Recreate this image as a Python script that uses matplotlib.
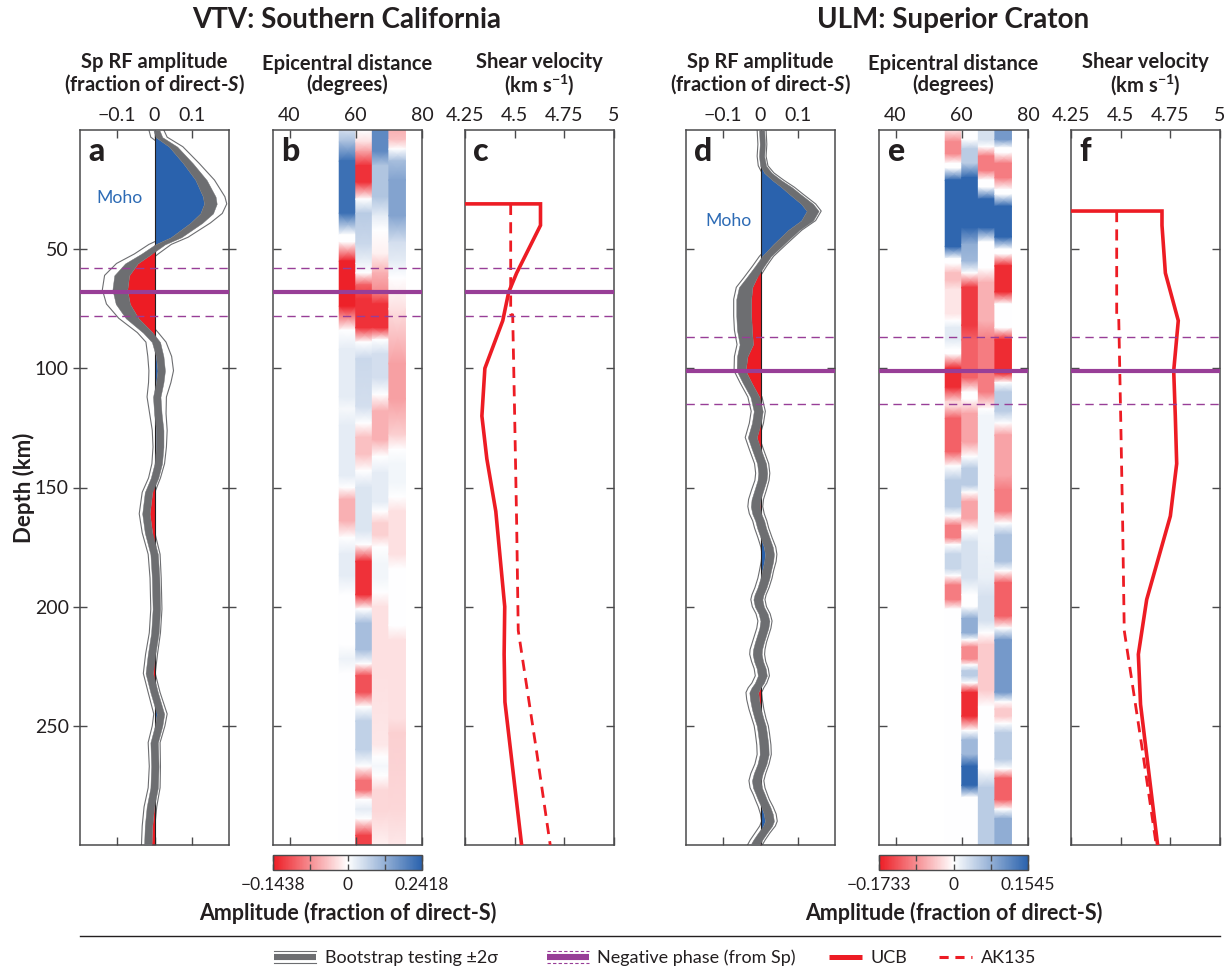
import numpy as np
import matplotlib
matplotlib.use('Agg')
import matplotlib.pyplot as plt
from matplotlib.colors import LinearSegmentedColormap, TwoSlopeNorm
from matplotlib.cm import ScalarMappable
from matplotlib.lines import Line2D
from matplotlib.legend_handler import HandlerBase

plt.rcParams['font.family'] = ['Lato', 'DejaVu Sans']
plt.rcParams['mathtext.fontset'] = 'custom'
plt.rcParams['mathtext.rm'] = 'Lato:bold'
plt.rcParams['mathtext.it'] = 'Lato:bold:italic'
plt.rcParams['mathtext.bf'] = 'Lato:bold'

# ---------------- data ----------------
# Sp receiver function, VTV (panel a): depth (km), mean amplitude, half width of
# the bootstrap bundle, and offset of the +-2 sigma lines
depth_a = [0, 3, 7, 14, 21, 28, 31, 35, 39, 45,
           48, 52, 56, 61, 67, 73, 79, 85, 89, 95,
           101, 106, 112, 119, 126, 133, 140, 146, 152, 161,
           169, 178, 188, 201, 211, 220, 228, 236, 245, 250,
           257, 267, 276, 284, 292, 300]
amp_a = [0.005, 0.012, 0.05, 0.09, 0.125, 0.147, 0.150, 0.140, 0.112, 0.058,
         0.015, -0.022, -0.062, -0.088, -0.093, -0.085, -0.060, -0.018, 0.004, 0.014,
         0.018, 0.014, 0.006, 0.009, 0.014, 0.014, 0.010, 0.000, -0.016, -0.023,
         -0.016, -0.001, 0.003, 0.005, 0.001, -0.008, -0.014, -0.001, 0.016, 0.011,
         -0.001, 0.001, -0.001, -0.011, -0.016, -0.018]
band_a = [0.008, 0.009, 0.011, 0.013, 0.015, 0.017, 0.017, 0.017, 0.016, 0.014,
          0.013, 0.014, 0.017, 0.020, 0.020, 0.019, 0.017, 0.013, 0.011, 0.010,
          0.010, 0.010, 0.010, 0.010, 0.010, 0.010, 0.010, 0.010, 0.010, 0.010,
          0.010, 0.010, 0.010, 0.010, 0.010, 0.010, 0.010, 0.010, 0.010, 0.010,
          0.010, 0.010, 0.010, 0.010, 0.010, 0.010]
sig_a = [0.020, 0.022, 0.026, 0.030, 0.036, 0.042, 0.044, 0.042, 0.038, 0.032,
         0.030, 0.032, 0.040, 0.046, 0.047, 0.044, 0.036, 0.028, 0.027, 0.032,
         0.033, 0.030, 0.026, 0.022, 0.020, 0.018, 0.017, 0.016, 0.017, 0.018,
         0.017, 0.016, 0.015, 0.015, 0.015, 0.016, 0.016, 0.016, 0.018, 0.017,
         0.016, 0.015, 0.016, 0.017, 0.017, 0.017]

# Sp receiver function, ULM (panel d)
depth_d = [0, 6, 11, 15, 18, 21, 24, 27, 31, 34,
           38, 42, 48, 53, 57, 62, 66, 71, 78, 84,
           90, 95, 101, 106, 112, 118, 123, 129, 134, 140,
           144, 147, 151, 155, 158, 161, 164, 167, 171, 175,
           178, 181, 185, 188, 192, 195, 197, 200, 203, 206,
           209, 211, 215, 218, 220, 223, 226, 229, 232, 234,
           236, 239, 243, 247, 250, 253, 258, 262, 266, 270,
           273, 276, 279, 281, 284, 287, 290, 292, 295, 298,
           300]
amp_d = [0.003, 0.005, 0.003, 0.007, 0.020, 0.043, 0.070, 0.093, 0.125, 0.140,
         0.125, 0.089, 0.048, 0.016, -0.002, -0.024, -0.040, -0.045, -0.045, -0.043,
         -0.038, -0.049, -0.052, -0.036, -0.015, -0.006, -0.011, -0.022, -0.011, 0.003,
         0.006, 0.004, -0.004, -0.012, -0.014, -0.010, -0.002, 0.003, 0.012, 0.021,
         0.024, 0.022, 0.016, 0.012, 0.004, -0.004, -0.007, -0.003, 0.007, 0.012,
         0.009, 0.005, -0.003, -0.008, -0.009, -0.005, 0.002, 0.005, -0.003, -0.012,
         -0.018, -0.016, -0.011, -0.004, 0.002, 0.005, 0.009, 0.010, 0.004, -0.006,
         -0.011, -0.008, 0.000, 0.005, 0.014, 0.021, 0.024, 0.019, 0.005, -0.008,
         -0.015]
band_d = [0.007, 0.007, 0.007, 0.008, 0.010, 0.012, 0.014, 0.015, 0.016, 0.016,
          0.016, 0.015, 0.014, 0.012, 0.012, 0.014, 0.018, 0.020, 0.020, 0.020,
          0.018, 0.014, 0.012, 0.012, 0.012, 0.012, 0.012, 0.012, 0.012, 0.012,
          0.012, 0.012, 0.012, 0.012, 0.012, 0.012, 0.012, 0.012, 0.012, 0.012,
          0.012, 0.012, 0.012, 0.012, 0.012, 0.012, 0.012, 0.012, 0.012, 0.012,
          0.012, 0.012, 0.012, 0.012, 0.012, 0.012, 0.012, 0.012, 0.012, 0.012,
          0.012, 0.012, 0.012, 0.012, 0.012, 0.012, 0.012, 0.012, 0.012, 0.012,
          0.012, 0.012, 0.012, 0.012, 0.012, 0.012, 0.012, 0.012, 0.012, 0.012,
          0.012]
sig_d = [0.012, 0.012, 0.012, 0.013, 0.016, 0.019, 0.021, 0.022, 0.023, 0.023,
         0.023, 0.022, 0.021, 0.019, 0.019, 0.021, 0.025, 0.027, 0.027, 0.027,
         0.025, 0.021, 0.019, 0.019, 0.019, 0.019, 0.019, 0.019, 0.019, 0.019,
         0.019, 0.019, 0.020, 0.020, 0.020, 0.020, 0.019, 0.019, 0.019, 0.020,
         0.020, 0.020, 0.019, 0.019, 0.019, 0.019, 0.019, 0.019, 0.019, 0.019,
         0.019, 0.019, 0.019, 0.020, 0.020, 0.019, 0.019, 0.019, 0.020, 0.021,
         0.021, 0.021, 0.020, 0.019, 0.019, 0.019, 0.019, 0.019, 0.019, 0.020,
         0.020, 0.020, 0.019, 0.019, 0.020, 0.021, 0.021, 0.021, 0.020, 0.020,
         0.020]

# epicentral-distance bins (degrees) of the binned Sp stacks
dist_bins = [55, 60, 65, 70, 75]

# binned stacks, (depth km, amplitude) knots per bin -- VTV (panel b)
vtv_bin1 = [(0, 0.05), (5, 0.1), (13, 0.22), (35, 0.22), (44, 0.0), (47, 0.0), (55, -0.14),
            (74, -0.14), (84, 0.0), (92, 0.03), (112, 0.03), (117, 0.01), (124, 0.03),
            (145, 0.03), (150, 0.0), (155, -0.05), (164, -0.05), (171, 0.0), (178, 0.03),
            (187, 0.03), (195, 0.0), (216, 0.0), (222, 0.02), (228, 0.0), (300, 0.0)]
vtv_bin2 = [(0, 0.0), (5, -0.02), (9, -0.06), (15, -0.13), (22, -0.13), (29, 0.0), (35, 0.08),
            (48, 0.06), (56, 0.02), (60, 0.0), (65, -0.1), (71, -0.13), (83, -0.13), (89, 0.0),
            (96, 0.06), (116, 0.05), (123, 0.0), (129, -0.04), (136, -0.04), (143, 0.0),
            (150, 0.04), (168, 0.04), (174, 0.0), (181, -0.13), (195, -0.13), (201, 0.0),
            (207, 0.1), (218, 0.1), (224, 0.0), (229, -0.11), (236, -0.11), (242, 0.0),
            (248, 0.07), (260, 0.07), (267, 0.0), (273, -0.09), (277, -0.09), (281, 0.0),
            (285, 0.03), (289, 0.0), (296, -0.12), (300, -0.12)]
vtv_bin3 = [(0, 0.18), (9, 0.18), (15, 0.09), (28, 0.09), (36, 0.03), (42, 0.0), (52, -0.01),
            (60, -0.05), (67, -0.07), (73, -0.13), (83, -0.13), (88, 0.0), (94, 0.05),
            (104, 0.05), (111, 0.0), (118, -0.05), (130, -0.05), (137, 0.0), (144, 0.03),
            (156, 0.03), (160, 0.0), (165, -0.03), (170, -0.03), (175, 0.0), (182, 0.015),
            (188, 0.015), (194, 0.0), (200, -0.02), (228, -0.02), (258, -0.015), (263, 0.0),
            (267, 0.012), (271, 0.0), (277, -0.025), (286, -0.025), (300, -0.01)]
vtv_bin4 = [(0, -0.05), (4, -0.04), (8, 0.0), (13, 0.1), (21, 0.14), (36, 0.14), (47, 0.05),
            (55, 0.03), (62, 0.0), (75, -0.02), (98, -0.06), (113, -0.06), (128, -0.03),
            (134, 0.0), (140, 0.015), (148, 0.015), (154, 0.0), (160, -0.02), (178, -0.02),
            (184, 0.0), (208, 0.0), (214, -0.02), (247, -0.02), (253, -0.03), (285, -0.025),
            (300, -0.015)]

# binned stacks -- ULM (panel e)
ulm_bin1 = [(0, -0.02), (5, -0.09), (10, -0.09), (14, 0.0), (16, 0.0), (21, 0.15), (49, 0.15),
            (54, 0.0), (56, 0.0), (60, -0.05), (63, -0.05), (67, -0.02), (77, -0.02), (80, 0.0),
            (83, 0.02), (88, 0.02), (92, 0.0), (94, 0.0), (100, -0.16), (108, -0.16),
            (114, -0.03), (116, -0.03), (121, -0.12), (135, -0.12), (141, 0.0), (147, 0.05),
            (158, 0.05), (162, 0.0), (166, -0.1), (171, -0.1), (174, 0.0), (178, 0.04),
            (184, 0.04), (187, 0.0), (191, -0.1), (197, -0.1), (201, 0.0), (300, 0.0)]
ulm_bin2 = [(0, 0.0), (4, 0.0), (8, 0.05), (14, 0.05), (20, 0.15), (41, 0.15), (48, 0.08),
            (55, 0.07), (60, 0.0), (66, -0.15), (82, -0.15), (88, -0.12), (104, -0.12),
            (110, 0.0), (113, 0.0), (119, -0.07), (131, -0.07), (137, 0.0), (142, 0.05),
            (149, 0.05), (152, 0.0), (156, -0.07), (163, -0.07), (168, 0.0), (173, 0.03),
            (188, 0.03), (195, 0.0), (200, 0.0), (205, 0.08), (211, 0.08), (214, 0.0),
            (217, -0.09), (222, -0.09), (224.5, 0.0), (227, 0.05), (229, 0.05), (232, 0.0),
            (236, -0.16), (246, -0.16), (252, 0.0), (256, 0.07), (262, 0.07), (267, 0.15),
            (275, 0.15), (280, 0.0), (300, 0.0)]
ulm_bin3 = [(0, 0.03), (4, 0.03), (7, 0.0), (11, -0.1), (17, -0.1), (21, 0.0), (24, 0.0),
            (29, 0.15), (41, 0.15), (47, 0.0), (58, 0.0), (64, -0.06), (80, -0.06), (88, -0.1),
            (110, -0.1), (117, 0.0), (120, 0.01), (172, 0.01), (188, 0.015), (196, 0.03),
            (206, 0.03), (211, 0.0), (216, -0.04), (235, -0.04), (242, 0.0), (268, 0.0),
            (276, 0.05), (300, 0.05)]
ulm_bin4 = [(0, 0.1), (4, 0.1), (7.5, 0.0), (9.5, 0.0), (14, -0.1), (20, -0.1), (25, 0.0),
            (27, 0.0), (32, 0.15), (45, 0.15), (50, 0.0), (52, 0.0), (57, -0.16), (68, -0.16),
            (73, 0.0), (83, 0.0), (88, -0.16), (102, -0.16), (106, 0.0), (110, 0.05),
            (118, 0.05), (123, 0.0), (128, -0.07), (145, -0.07), (151, -0.1), (160, -0.1),
            (165, 0.0), (170, 0.06), (181, 0.06), (185, 0.0), (190, -0.12), (204, -0.12),
            (209, 0.0), (214, 0.1), (236, 0.1), (240, 0.0), (243, -0.04), (246, -0.04),
            (249, 0.0), (253, 0.05), (264, 0.05), (268, 0.0), (272, -0.12), (281, -0.12),
            (285, 0.0), (289, 0.08), (300, 0.08)]

cbar_vtv = (-0.1438, 0.2418)
cbar_ulm = (-0.1733, 0.1545)

# shear velocity models (km/s)
ucb_vtv_depth = [0, 31, 31, 40, 60, 68, 80, 100, 120, 138, 160, 200, 220, 240, 300]
ucb_vtv_vs = [3.8, 3.8, 4.63, 4.63, 4.51, 4.47, 4.44, 4.35, 4.335, 4.36, 4.405, 4.45, 4.447, 4.451, 4.535]
ucb_ulm_depth = [0, 34, 34, 40, 60, 80, 101, 120, 140, 162, 197, 220, 241, 300]
ucb_ulm_vs = [3.8, 3.8, 4.708, 4.708, 4.725, 4.79, 4.767, 4.775, 4.782, 4.75, 4.631, 4.589, 4.6, 4.686]
ak135_vtv_depth = [31, 77.5, 77.5, 120, 165, 210, 260, 300]
ak135_ulm_depth = [34, 77.5, 77.5, 120, 165, 210, 260, 300]
ak135_vs = [4.48, 4.48, 4.49, 4.50, 4.51, 4.518, 4.609, 4.679]

# negative phase from Sp: depth and +- range (km)
neg_vtv = (68, 58, 78)
neg_ulm = (101, 87, 115)

# ---------------- style ----------------
W, H = 1225, 968
ink = '#231f20'
spine_col = '#4a4a4c'
gray = '#6d6e71'
blue = '#2a62ad'
red = '#ed1c24'
purple = '#983e97'
cmap = LinearSegmentedColormap.from_list('rwb', [red, '#ffffff', blue])

fig = plt.figure(figsize=(W / 100, H / 100), dpi=100)


def px_axes(x0, y0, x1, y1):
    return fig.add_axes([x0 / W, 1 - y1 / H, (x1 - x0) / W, (y1 - y0) / H])


def style(ax, xlim, ticks, labels, ylabels=False):
    ax.set_ylim(300, 0)
    ax.set_xlim(*xlim)
    ax.set_xticks(ticks)
    ax.set_xticklabels(labels)
    ax.tick_params(axis='x', top=True, bottom=True, labeltop=True, labelbottom=False,
                   direction='in', length=6, width=1, color=spine_col, pad=4,
                   labelsize=14, labelcolor=ink)
    ax.set_yticks([50, 100, 150, 200, 250])
    ax.tick_params(axis='y', left=True, right=True, labelleft=ylabels,
                   direction='inout' if ylabels else 'in', length=10 if ylabels else 6,
                   width=1, color=spine_col, labelsize=14, pad=3, labelcolor=ink)
    for s in ax.spines.values():
        s.set_color(spine_col)
        s.set_linewidth(1.1)


def header(ax, txt):
    ax.text(0.5, 1.078, txt, transform=ax.transAxes, ha='center', va='center',
            fontsize=14.5, fontweight='bold', linespacing=1.0, color=ink)


def letter(ax, s):
    ax.text(0.055, 0.957, s, transform=ax.transAxes, ha='left', va='baseline',
            fontsize=23, fontweight='black', color=ink)


def rf_panel(ax, depth, amp, band, sig):
    depth = np.array(depth)
    amp = np.array(amp)
    band = np.array(band)
    sig = np.array(sig)
    inner = np.where(amp > 0, np.maximum(amp - band, 0), np.minimum(amp + band, 0))
    ax.plot(amp - sig, depth, color=gray, lw=0.8, zorder=1)
    ax.plot(amp + sig, depth, color=gray, lw=0.8, zorder=1)
    ax.fill_betweenx(depth, 0, np.maximum(inner, 0), color=blue, lw=0, zorder=2)
    ax.fill_betweenx(depth, 0, np.minimum(inner, 0), color=red, lw=0, zorder=2)
    ax.axvline(0, color=ink, lw=0.8, zorder=2.5)
    ax.fill_betweenx(depth, amp - band, amp + band, color=gray, lw=0.3, zorder=3)


def bin_panel(ax, bins, norm):
    for i, knots in enumerate(bins):
        d = np.array([k[0] for k in knots])
        v = np.array([k[1] for k in knots])
        X, Y = np.meshgrid([dist_bins[i], dist_bins[i + 1]], d)
        C = np.column_stack([v, v])
        ax.pcolormesh(X, Y, C, shading='gouraud', cmap=cmap, norm=norm, zorder=1)


def neg_lines(ax, neg):
    ax.axhline(neg[0], color=purple, lw=3, zorder=5)
    for y in neg[1:]:
        ax.axhline(y, color=purple, lw=1, dashes=(6, 4), zorder=5)


def vs_panel(ax, ucb_d, ucb_v, ak_d):
    ax.plot(ucb_v, ucb_d, color=red, lw=2.6, zorder=3, solid_joinstyle='miter')
    ax.plot(ak135_vs, ak_d, color=red, lw=2.0, dashes=(4, 2.6), zorder=3)


lefts = [80, 273, 465, 686, 879, 1071]
axs = [px_axes(x, 130, x + 149, 845) for x in lefts]
ax_a, ax_b, ax_c, ax_d, ax_e, ax_f = axs

norm_vtv = TwoSlopeNorm(vmin=cbar_vtv[0], vcenter=0, vmax=cbar_vtv[1])
norm_ulm = TwoSlopeNorm(vmin=cbar_ulm[0], vcenter=0, vmax=cbar_ulm[1])

for ax, depth, amp, band, sig in [(ax_a, depth_a, amp_a, band_a, sig_a),
                                  (ax_d, depth_d, amp_d, band_d, sig_d)]:
    rf_panel(ax, depth, amp, band, sig)
    style(ax, (-0.2, 0.2), [-0.1, 0, 0.1], ['\u22120.1', '0', '0.1'], ylabels=(ax is ax_a))
    header(ax, 'Sp RF amplitude\n(fraction of direct-$S$)')

ax_a.text(-0.095, 28.5, 'Moho', color='#2d6bb5', ha='center', va='center', fontsize=12.7)
ax_d.text(-0.085, 38, 'Moho', color='#2d6bb5', ha='center', va='center', fontsize=12.7)

bin_panel(ax_b, [vtv_bin1, vtv_bin2, vtv_bin3, vtv_bin4], norm_vtv)
bin_panel(ax_e, [ulm_bin1, ulm_bin2, ulm_bin3, ulm_bin4], norm_ulm)
for ax in (ax_b, ax_e):
    style(ax, (35, 80), [40, 60, 80], ['40', '60', '80'])
    header(ax, 'Epicentral distance\n(degrees)')

vs_panel(ax_c, ucb_vtv_depth, ucb_vtv_vs, ak135_vtv_depth)
vs_panel(ax_f, ucb_ulm_depth, ucb_ulm_vs, ak135_ulm_depth)
for ax in (ax_c, ax_f):
    style(ax, (4.25, 5.0), [4.25, 4.5, 4.75, 5.0], ['4.25', '4.5', '4.75', '5'])
    header(ax, 'Shear velocity\n(km s$^{-1}$)')

for ax in (ax_a, ax_b, ax_c):
    neg_lines(ax, neg_vtv)
for ax in (ax_d, ax_e, ax_f):
    neg_lines(ax, neg_ulm)

for ax, s in zip(axs, 'abcdef'):
    letter(ax, s)

ax_a.set_ylabel('Depth (km)', fontsize=16, fontweight='bold', labelpad=0, color=ink)

# colorbars
for x0, norm, lims, xc in [(273, norm_vtv, cbar_vtv, 348), (879, norm_ulm, cbar_ulm, 954)]:
    cax = px_axes(x0, 855, x0 + 149, 870)
    cb = fig.colorbar(ScalarMappable(norm=norm, cmap=cmap), cax=cax, orientation='horizontal')
    cb.set_ticks([lims[0], lims[0] / 2, 0, lims[1] / 2, lims[1]])
    cb.set_ticklabels(['\u2212%.4f' % abs(lims[0]), '', '0', '', '%.4f' % lims[1]])
    cax.tick_params(axis='x', direction='in', length=4, width=1, top=True, bottom=True,
                    color=spine_col, labelsize=12.5, pad=5, labelcolor=ink)
    cb.outline.set_edgecolor(spine_col)
    cb.outline.set_linewidth(1)
    fig.text(xc / W, 1 - 913 / H, 'Amplitude (fraction of direct-S)', ha='center', va='center',
             fontsize=15.5, fontweight='bold', color=ink)

# titles
fig.text(347 / W, 1 - 20 / H, 'VTV: Southern California', ha='center', va='center',
         fontsize=20, fontweight='bold', color=ink)
fig.text(953 / W, 1 - 20 / H, 'ULM: Superior Craton', ha='center', va='center',
         fontsize=20, fontweight='bold', color=ink)

# rule above the legend
fig.add_artist(Line2D([80 / W, 1220 / W], [1 - 936 / H] * 2, color=ink, lw=1,
                      transform=fig.transFigure))


class TripleHandler(HandlerBase):
    def __init__(self, color, side_dashes=None):
        super().__init__()
        self.color = color
        self.side_dashes = side_dashes

    def create_artists(self, legend, orig_handle, xdescent, ydescent, width, height,
                       fontsize, trans):
        y = height / 2 - ydescent
        xs = [-xdescent, width - xdescent]
        arts = [Line2D(xs, [y, y], color=self.color, lw=4.4, solid_capstyle='butt',
                       transform=trans)]
        for off in (4.2, -4.2):
            ln = Line2D(xs, [y + off, y + off], color=self.color, lw=0.8, transform=trans)
            if self.side_dashes:
                ln.set_dashes(self.side_dashes)
            arts.append(ln)
        return arts


h_boot = Line2D([], [])
h_neg = Line2D([], [])
h_ucb = Line2D([], [], color=red, lw=3.6, solid_capstyle='butt')
h_ak = Line2D([], [], color=red, lw=2.2, dashes=(3, 2.2))
legend_items = [
    (h_boot, 'Bootstrap testing \u00b12\u03c3', 274, 2.35, {h_boot: TripleHandler(gray)}),
    (h_neg, 'Negative phase (from Sp)', 547, 2.3, {h_neg: TripleHandler(purple, (3, 2))}),
    (h_ucb, 'UCB', 829, 1.85, {}),
    (h_ak, 'AK135', 939, 1.85, {}),
]
for handle, label, x0, hlen, hmap in legend_items:
    fig.legend([handle], [label], handler_map=hmap, loc='center left',
               bbox_to_anchor=(x0 / W, 1 - 958 / H), frameon=False, fontsize=13,
               handlelength=hlen, handletextpad=0.45, borderpad=0, borderaxespad=0,
               labelcolor=ink)

fig.savefig('out.png', dpi=100)
